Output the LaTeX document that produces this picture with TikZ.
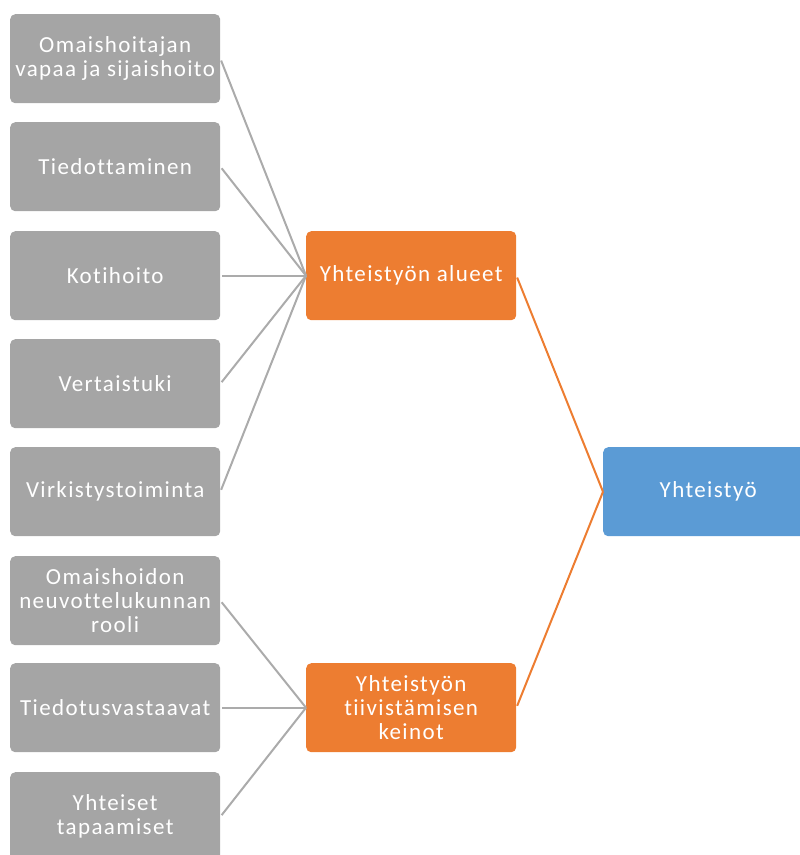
\documentclass[tikz,border=0pt]{standalone}
\usepackage{fontspec}
\setmainfont{Carlito}[LetterSpace=6,Ligatures={NoCommon,NoRequired,NoContextual}]
\definecolor{boxgray}{HTML}{A5A5A5}
\definecolor{boxorange}{HTML}{ED7D31}
\definecolor{boxblue}{HTML}{5B9BD5}
\definecolor{linegray}{HTML}{ABABAB}
\begin{document}
\begin{tikzpicture}[x=1pt,y=-1pt,
  card/.style={rounded corners=5pt, minimum width=210pt, minimum height=89pt, inner sep=0pt,
    text=white, align=center, font=\fontsize{23}{24}\selectfont, anchor=north west},
  graycard/.style={card, fill=boxgray},
  orangecard/.style={card, fill=boxorange},
  bluecard/.style={card, fill=boxblue},
  glink/.style={draw=linegray, line width=2pt, shorten <=2pt},
  olink/.style={draw=boxorange, line width=2pt, shorten <=2pt}]
\useasboundingbox (0,0) rectangle (800,855);
\clip (0,0) rectangle (800,855);
\node[graycard] (g1) at (10,14) {Omaishoitajan\\vapaa ja sijaishoito};
\node[graycard] (g2) at (10,122) {Tiedottaminen};
\node[graycard] (g3) at (10,231) {Kotihoito};
\node[graycard] (g4) at (10,339) {Vertaistuki};
\node[graycard] (g5) at (10,447) {Virkistystoiminta};
\node[graycard] (g6) at (10,556) {Omaishoidon\\neuvottelukunnan\\rooli};
\node[graycard] (g7) at (10,663) {Tiedotusvastaavat};
\node[graycard] (g8) at (10,772) {Yhteiset\\tapaamiset};
\node[orangecard] (o1) at (306,231) {Yhteistyön alueet};
\node[orangecard] (o2) at (306,663) {Yhteistyön\\tiivistämisen\\keinot};
\node[bluecard] (b) at (603,447) {Yhteistyö};
\foreach \i in {1,...,5} \draw[glink] (g\i.east) -- (o1.west);
\foreach \i in {6,7,8} \draw[glink] (g\i.east) -- (o2.west);
\draw[olink] (o1.east) -- (b.west);
\draw[olink] (o2.east) -- (b.west);
\end{tikzpicture}
\end{document}
